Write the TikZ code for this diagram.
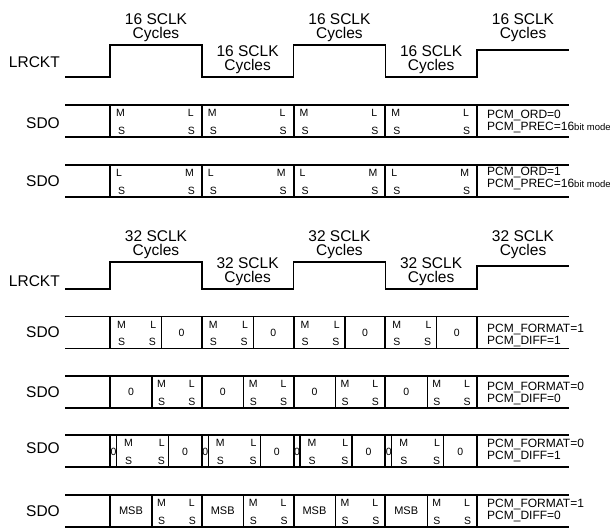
\documentclass[tikz,border=0pt]{standalone}
\usepackage{fontspec}
\setmainfont{Liberation Sans}

\begin{document}
\begin{tikzpicture}[x=1pt, y=-1pt,
  wave/.style={line width=1.5pt},
  cellsep/.style={line width=1.2pt},
  slotsep/.style={line width=2pt},
  big/.style={font=\fontsize{15.5}{14}\selectfont, inner sep=0pt, align=center},
  pcm/.style={font=\fontsize{12}{12}\selectfont, inner sep=0pt, anchor=base west},
  bit/.style={font=\fontsize{10.5}{10.5}\selectfont, inner sep=0pt}]
  \useasboundingbox (0,0) rectangle (610,528);

  % 16 SCLK frame: LRCKT
  \node[big, anchor=east] (lr1) at (60,62.5) {LRCKT};
  \draw[wave] (65,77) -- (110,77) -- (110,45) -- (201.75,45) -- (201.75,77)
    -- (293.5,77) -- (293.5,45) -- (385.25,45) -- (385.25,77) -- (477,77)
    -- (477,50) -- (569,50);
  \foreach \x/\y [count=\k] in {156/42, 247.6/74, 339.4/42, 431.1/74, 523/42}
    \node[big, anchor=south] (c16\k) at (\x,\y) {16 SCLK\\Cycles};

  % 32 SCLK frame: LRCKT
  \node[big, anchor=east] (lr2) at (60,281.5) {LRCKT};
  \draw[wave] (65,289) -- (110,289) -- (110,262) -- (201.75,262) -- (201.75,289)
    -- (293.5,289) -- (293.5,262) -- (385.25,262) -- (385.25,289) -- (477,289)
    -- (477,266) -- (569,266);
  \foreach \x/\y [count=\k] in {156/258.5, 247.6/285.5, 339.4/258.5, 431.1/285.5, 523/258.5}
    \node[big, anchor=south] (c32\k) at (\x,\y) {32 SCLK\\Cycles};

  % SDO lanes: borders and slot edges
  \foreach \t in {105,165,316.5,376,435,495} {
    \draw[wave] (65,\t) -- (569,\t) (65,\t+32) -- (569,\t+32);
    \draw[cellsep] (110,\t) -- ++(0,32) (477,\t) -- ++(0,32);
    \draw[slotsep] (201.75,\t) -- ++(0,32) (293.5,\t) -- ++(0,32) (385.25,\t) -- ++(0,32);
  }
  \foreach \y/\n in {123/1, 181/2, 332.5/3, 392.5/4, 448.5/5, 511/6}
    \node[big, anchor=east] (sdo\n) at (60,\y) {SDO};

  % 16 bit words
  \foreach \t/\l/\r [count=\n] in {105/M/L, 165/L/M} {
    \foreach \s [count=\k] in {110,201.75,293.5,385.25} {
      \node[bit, anchor=west] (w\n-\k a) at (\s+6,\t+8) {\l};
      \node[bit, anchor=east] (w\n-\k b) at (\s+84,\t+8) {\r};
      \node[bit, anchor=west] (w\n-\k c) at (\s+8,\t+25.5) {S};
      \node[bit, anchor=east] (w\n-\k d) at (\s+85,\t+25.5) {S};
    }
  }
  \node[pcm] (p1a) at (487,118) {PCM\_ORD=0};
  \node[pcm] (p1b) at (487,130) {PCM\_PREC=16{\fontsize{9.5}{9.5}\selectfont bit mode}};
  \node[pcm] (p2a) at (487,175) {PCM\_ORD=1};
  \node[pcm] (p2b) at (487,187) {PCM\_PREC=16{\fontsize{9.5}{9.5}\selectfont bit mode}};

  % PCM_FORMAT=1, PCM_DIFF=1
  \foreach \s [count=\k] in {110,201.75,293.5,385.25} {
    \draw[cellsep] (\s+51.5,316.5) -- ++(0,32);
    \node[bit, anchor=west] (f3-\k a) at (\s+7,324.5) {M};
    \node[bit, anchor=east] (f3-\k b) at (\s+46.5,324.5) {L};
    \node[bit, anchor=west] (f3-\k c) at (\s+8,342) {S};
    \node[bit, anchor=east] (f3-\k d) at (\s+46,342) {S};
    \node[bit] (f3-\k z) at (\s+71.6,332.5) {0};
  }
  \node[pcm] (p3a) at (487,332.5) {PCM\_FORMAT=1};
  \node[pcm] (p3b) at (487,344.5) {PCM\_DIFF=1};

  % PCM_FORMAT=0, PCM_DIFF=0
  \foreach \s [count=\k] in {110,201.75,293.5,385.25} {
    \draw[cellsep] (\s+42,376) -- ++(0,32);
    \node[bit] (f4-\k z) at (\s+21,392) {0};
    \node[bit, anchor=west] (f4-\k a) at (\s+47,384) {M};
    \node[bit, anchor=east] (f4-\k b) at (\s+85,384) {L};
    \node[bit, anchor=west] (f4-\k c) at (\s+48,401.5) {S};
    \node[bit, anchor=east] (f4-\k d) at (\s+85.5,401.5) {S};
  }
  \node[pcm] (p4a) at (487,390) {PCM\_FORMAT=0};
  \node[pcm] (p4b) at (487,402) {PCM\_DIFF=0};

  % PCM_FORMAT=0, PCM_DIFF=1
  \foreach \s [count=\k] in {110,201.75,293.5,385.25} {
    \draw[cellsep] (\s+6.5,435) -- ++(0,32) (\s+58.5,435) -- ++(0,32);
    \node[bit] (f5-\k y) at (\s+3.5,451.5) {0};
    \node[bit, anchor=west] (f5-\k a) at (\s+14,443) {M};
    \node[bit, anchor=east] (f5-\k b) at (\s+55,443) {L};
    \node[bit, anchor=west] (f5-\k c) at (\s+15,460.5) {S};
    \node[bit, anchor=east] (f5-\k d) at (\s+55,460.5) {S};
    \node[bit] (f5-\k z) at (\s+75,451.5) {0};
  }
  \node[pcm] (p5a) at (487,447) {PCM\_FORMAT=0};
  \node[pcm] (p5b) at (487,459) {PCM\_DIFF=1};

  % PCM_FORMAT=1, PCM_DIFF=0
  \foreach \s [count=\k] in {110,201.75,293.5,385.25} {
    \draw[cellsep] (\s+42,495) -- ++(0,32);
    \node[bit, font=\fontsize{11}{11}\selectfont] (f6-\k z) at (\s+21,511) {MSB};
    \node[bit, anchor=west] (f6-\k a) at (\s+47,503) {M};
    \node[bit, anchor=east] (f6-\k b) at (\s+85,503) {L};
    \node[bit, anchor=west] (f6-\k c) at (\s+48,520.5) {S};
    \node[bit, anchor=east] (f6-\k d) at (\s+86,520.5) {S};
  }
  \node[pcm] (p6a) at (487,507) {PCM\_FORMAT=1};
  \node[pcm] (p6b) at (487,519) {PCM\_DIFF=0};
\end{tikzpicture}
\end{document}
